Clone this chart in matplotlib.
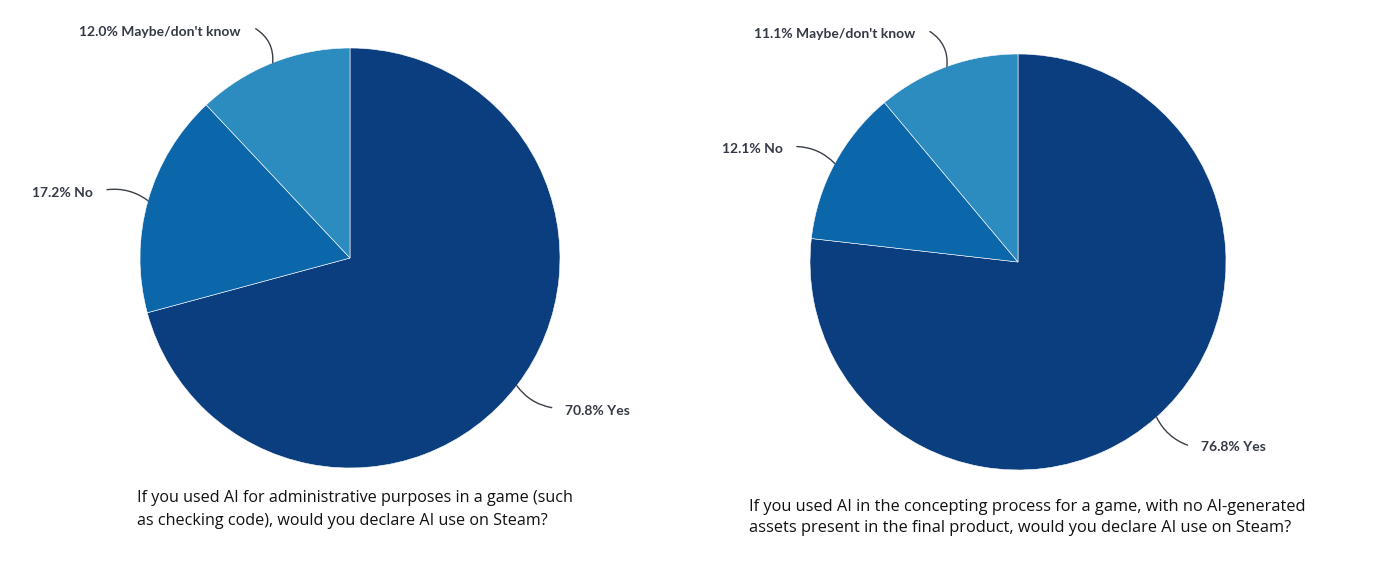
import numpy as np
import matplotlib.pyplot as plt

labels = ["Yes", "No", "Maybe/don't know"]
left_values = [70.8, 17.2, 12.0]
right_values = [76.8, 12.1, 11.1]
colors = ["#0b3e7f", "#0c66aa", "#2c8bbf"]

left_caption = ("If you used AI for administrative purposes in a game (such\n"
                "as checking code), would you declare AI use on Steam?")
right_caption = ("If you used AI in the concepting process for a game, with no AI-generated\n"
                 "assets present in the final product, would you declare AI use on Steam?")

fig = plt.figure(figsize=(13.8, 5.74), dpi=100)


def draw_pie(rect, values, offsets):
    ax = fig.add_axes(rect)
    wedges, _ = ax.pie(values, colors=colors, startangle=90, counterclock=False,
                       radius=1, wedgeprops=dict(edgecolor='white', linewidth=0.4))
    ax.set_xlim(-1, 1)
    ax.set_ylim(-1, 1)
    ax.set_aspect('equal')
    ax.axis('off')
    for w, val, lab, off in zip(wedges, values, labels, offsets):
        mid = np.deg2rad((w.theta1 + w.theta2) / 2)
        tip = (np.cos(mid), np.sin(mid))
        line_off, text_off, rad = off
        # leader line
        ax.annotate('', xy=tip, xytext=line_off, textcoords='offset pixels',
                    arrowprops=dict(arrowstyle='-', color='#3a3f4a', lw=1.0,
                                    shrinkA=0, shrinkB=0,
                                    connectionstyle=f'arc3,rad={rad}'))
        ha = 'left' if text_off[0] > 0 else 'right'
        ax.annotate(f"{val:.1f}% {lab}", xy=tip, xytext=text_off,
                    textcoords='offset pixels', ha=ha, va='center',
                    fontsize=10, family='Lato', fontweight='bold',
                    color='#343945')
    return ax


left_offsets = [((35, -22), (48, -25), -0.2),
                ((-41, 11), (-55, 8), -0.2),
                ((-17, 34), (-32, 31), -0.3)]
right_offsets = [((31, -28), (44, -30), -0.2),
                 ((-38, 17), (-52, 15), -0.2),
                 ((-17, 35), (-32, 33), -0.3)]

draw_pie([140 / 1380, 106 / 574, 420 / 1380, 420 / 574], left_values, left_offsets)
draw_pie([810 / 1380, 104 / 574, 416 / 1380, 416 / 574], right_values, right_offsets)

fig.text(137 / 1380, 1 - 490 / 574, left_caption, ha='left', va='top',
         fontsize=11.6, family='Open Sans', color='#111111', linespacing=1.6)
fig.text(749 / 1380, 1 - 499 / 574, right_caption, ha='left', va='top',
         fontsize=11.8, family='Open Sans', color='#111111', linespacing=1.45)

fig.savefig('out.png', dpi=100, facecolor='white')
